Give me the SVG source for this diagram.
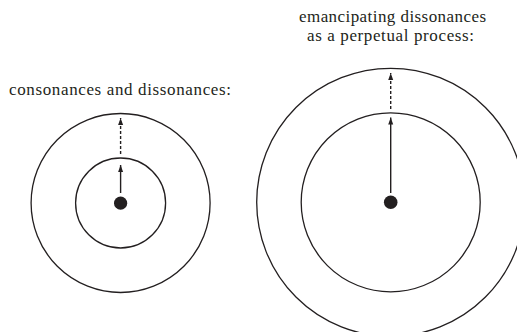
<svg xmlns="http://www.w3.org/2000/svg" width="517" height="332" viewBox="0 0 517 332">
<style>
.ring{fill:none;stroke:#231f20;stroke-width:1.3}
.dot{fill:#231f20}
.arr{stroke:#231f20;stroke-width:1.4;fill:none}
.dash{stroke-dasharray:3 2}
.lbl{font-family:"Liberation Serif",serif;font-size:17px;fill:#231f20}
</style>
<defs>
<marker id="ah" markerUnits="userSpaceOnUse" markerWidth="8" markerHeight="8" viewBox="0 0 8 8" refX="7" refY="4" orient="auto">
<path d="M0,1.5 L7,4 L0,6.5 Z" fill="#231f20"/>
</marker>
</defs>
<rect width="517" height="332" fill="#fff"/>
<g id="left">
<text class="lbl" x="9" y="95" textLength="222">consonances and dissonances:</text>
<circle class="ring" cx="120.6" cy="203" r="89.5"/>
<circle class="ring" cx="120.6" cy="203" r="45"/>
<circle class="dot" cx="120.6" cy="203.2" r="6.6"/>
</g>
<g id="right">
<text class="lbl" x="299" y="21.5" textLength="187">emancipating dissonances</text>
<text class="lbl" x="307" y="40.5" textLength="167">as a perpetual process:</text>
<circle class="ring" cx="390.7" cy="202.3" r="134"/>
<circle class="ring" cx="390.7" cy="202.3" r="89.5"/>
<circle class="dot" cx="390.7" cy="202.3" r="6.8"/>
</g>
<g id="connectors">
<line class="arr" x1="120.6" y1="193" x2="120.6" y2="165" marker-end="url(#ah)"/>
<line class="arr dash" x1="120.6" y1="154" x2="120.6" y2="118" marker-end="url(#ah)"/>
<line class="arr" x1="390.7" y1="193" x2="390.7" y2="117.5" marker-end="url(#ah)"/>
<line class="arr dash" x1="390.7" y1="109" x2="390.7" y2="73" marker-end="url(#ah)"/>
</g>
</svg>
